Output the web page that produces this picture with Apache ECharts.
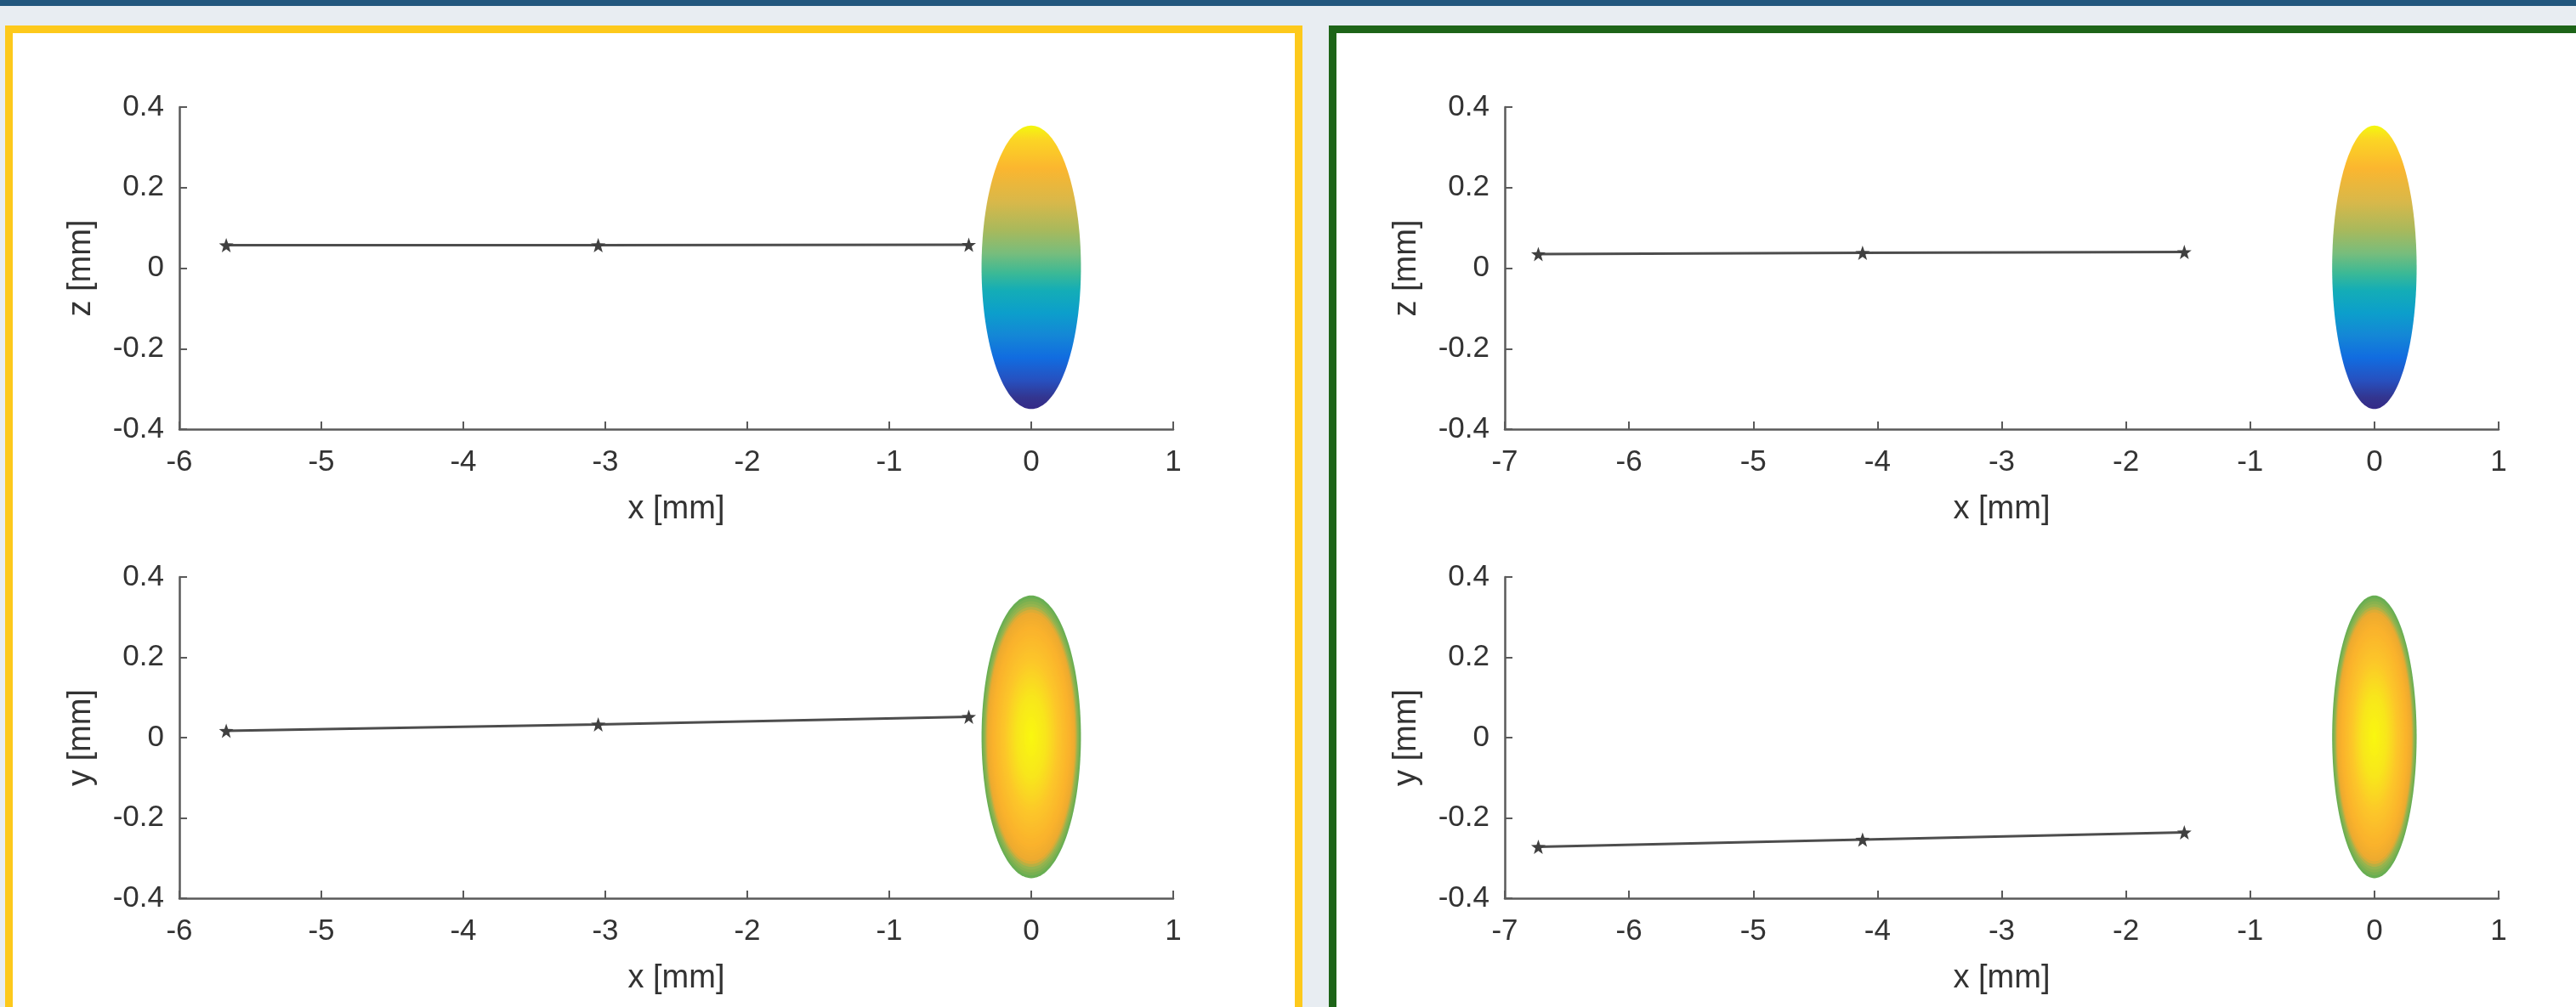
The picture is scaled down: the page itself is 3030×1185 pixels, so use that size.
<!DOCTYPE html>
<html>
<head>
<meta charset="utf-8">
<script src="https://cdn.jsdelivr.net/npm/echarts@6/dist/echarts.min.js"></script>
<style>
  html, body { margin: 0; padding: 0; width: 3030px; height: 1185px; overflow: hidden; background: #e8edf2; }
  #band { position: absolute; left: 0; top: 0; width: 3030px; height: 7px; background: #22577e; }
  #panelL { position: absolute; left: 6px; top: 30px; width: 1508px; height: 1200px; border: 9px solid #fdc91c; border-bottom: none; background: #fff; }
  #panelR { position: absolute; left: 1563px; top: 30px; width: 1500px; height: 1200px; border: 9px solid #1d6418; border-bottom: none; border-right: none; background: #fff; }
  #chart { position: absolute; left: 0; top: 0; width: 3030px; height: 1185px; }
</style>
</head>
<body>
<div id="band"></div>
<div id="panelL"></div>
<div id="panelR"></div>
<div id="chart"></div>
<script>
// ---- data ----
const xLeftTrack = [-5.67, -3.05, -0.44];
const zLeftTrack = [0.057, 0.057, 0.058];
const yLeftTrack = [0.017, 0.033, 0.052];
const xRightTrack = [-6.73, -4.12, -1.53];
const zRightTrack = [0.035, 0.038, 0.040];
const yRightTrack = [-0.272, -0.254, -0.236];
// ellipse: [centerX, centerY, radiusX, radiusY]
const ellipseLeft = [0, 0.002, 0.35, 0.352];
const ellipseRight = [0, 0.002, 0.34, 0.352];
const xRangeLeft = [-6, 1];
const xRangeRight = [-7, 1];
const yRange = [-0.4, 0.4];
const xName = 'x [mm]';
const yNames = ['z [mm]', 'y [mm]', 'z [mm]', 'y [mm]'];

// ---- styles ----
const FONT = "'Liberation Sans', Arial, sans-serif";
const AX = '#5a5a5a';
// colour stops from top (0) to bottom (1) of the upper ellipses
const topGradientStops = [
  [0.00, '#f4f80e'], [0.05, '#fbd524'], [0.15, '#fbb62f'], [0.27, '#d8b84a'],
  [0.37, '#a8b95c'], [0.45, '#78bd7c'], [0.52, '#3cb995'], [0.58, '#14adb6'],
  [0.66, '#0c9fcb'], [0.74, '#1487d6'], [0.82, '#116ce0'], [0.90, '#2750bf'],
  [0.96, '#33358f'], [1.00, '#352a87']
];
function topGradient() {
  return { type: 'linear', x: 0, y: 0, x2: 0, y2: 1,
    colorStops: topGradientStops.map(s => ({ offset: s[0], color: s[1] })) };
}
const ringColors = [
  [0.00, [249, 248, 15]], [0.30, [248, 230, 28]], [0.55, [252, 198, 42]],
  [0.78, [250, 178, 44]], [0.89, [236, 170, 48]], [0.94, [150, 180, 78]], [1.00, [104, 174, 82]]
];
function ringColor(r) {
  for (let i = 1; i < ringColors.length; i++) {
    if (r <= ringColors[i][0]) {
      const a = ringColors[i - 1], b = ringColors[i];
      const t = (r - a[0]) / (b[0] - a[0]);
      const c = a[1].map((v, k) => Math.round(v + (b[1][k] - v) * t));
      return 'rgb(' + c.join(',') + ')';
    }
  }
  return 'rgb(104,174,82)';
}
function ellipsePts(api, cx, cy, rx, ry, f) {
  const pts = [];
  for (let i = 0; i < 160; i++) {
    const t = i / 160 * 2 * Math.PI;
    pts.push(api.coord([cx + f * rx * Math.cos(t), cy + f * ry * Math.sin(t)]));
  }
  return pts;
}
const renderGradient = (params, api) => {
  const cx = api.value(0), cy = api.value(1), rx = api.value(2), ry = api.value(3);
  return { type: 'polygon', shape: { points: ellipsePts(api, cx, cy, rx, ry, 1) }, style: { fill: topGradient() } };
};
const renderRings = (params, api) => {
  const cx = api.value(0), cy = api.value(1), rx = api.value(2), ry = api.value(3);
  const children = [];
  const N = 50;
  for (let k = 0; k < N; k++) {
    const f = 1 - k / N;
    children.push({ type: 'polygon', shape: { points: ellipsePts(api, cx, cy, rx, ry, f) }, style: { fill: ringColor(f) } });
  }
  return { type: 'group', children };
};

const star = 'path://M0,-10 L2.35,-3.24 L9.51,-3.09 L3.8,1.24 L5.88,8.09 L0,4 L-5.88,8.09 L-3.8,1.24 L-9.51,-3.09 L-2.35,-3.24 Z';

const grids = [
  { left: 211, top: 126, width: 1169, height: 379 },
  { left: 211, top: 679, width: 1169, height: 378 },
  { left: 1770, top: 126, width: 1169, height: 379 },
  { left: 1770, top: 679, width: 1169, height: 378 }
];
const xRanges = [xRangeLeft, xRangeLeft, xRangeRight, xRangeRight];
const xAxes = grids.map((g, i) => ({
  type: 'value', gridIndex: i, min: xRanges[i][0], max: xRanges[i][1], interval: 1,
  name: xName, nameLocation: 'middle', nameGap: 76,
  nameTextStyle: { fontFamily: FONT, fontSize: 38, color: '#333' },
  axisLine: { onZero: false, lineStyle: { color: AX, width: 2.5 } },
  axisTick: { inside: true, length: 9, lineStyle: { color: AX, width: 2 } },
  axisLabel: { fontFamily: FONT, fontSize: 35, color: '#333', margin: 22 },
  splitLine: { show: false }
}));
const yAxes = grids.map((g, i) => ({
  type: 'value', gridIndex: i, min: yRange[0], max: yRange[1], interval: 0.2,
  name: yNames[i], nameLocation: 'middle', nameGap: 96,
  nameTextStyle: { fontFamily: FONT, fontSize: 38, color: '#333' },
  axisLine: { onZero: false, lineStyle: { color: AX, width: 2.5 } },
  axisTick: { inside: true, length: 9, lineStyle: { color: AX, width: 2 } },
  axisLabel: { fontFamily: FONT, fontSize: 35, color: '#333', margin: 18 },
  splitLine: { show: false }
}));

function track(i, xs, ys) {
  return {
    type: 'line', xAxisIndex: i, yAxisIndex: i,
    data: xs.map((x, k) => [x, ys[k]]),
    symbol: star, symbolSize: 17, showSymbol: true,
    lineStyle: { color: '#4d4d4d', width: 3 },
    itemStyle: { color: '#404040' }, z: 3, animation: false
  };
}
function ellipse(i, e, render) {
  return {
    type: 'custom', xAxisIndex: i, yAxisIndex: i, data: [e],
    encode: { x: 0, y: 1 }, renderItem: render, z: 2, animation: false, silent: true
  };
}

const chart = echarts.init(document.getElementById('chart'), null, { renderer: 'canvas' });
chart.setOption({
  backgroundColor: 'transparent',
  animation: false,
  grid: grids,
  xAxis: xAxes,
  yAxis: yAxes,
  series: [
    ellipse(0, ellipseLeft, renderGradient),
    ellipse(1, ellipseLeft, renderRings),
    ellipse(2, ellipseRight, renderGradient),
    ellipse(3, ellipseRight, renderRings),
    track(0, xLeftTrack, zLeftTrack),
    track(1, xLeftTrack, yLeftTrack),
    track(2, xRightTrack, zRightTrack),
    track(3, xRightTrack, yRightTrack)
  ]
});
</script>
</body>
</html>
